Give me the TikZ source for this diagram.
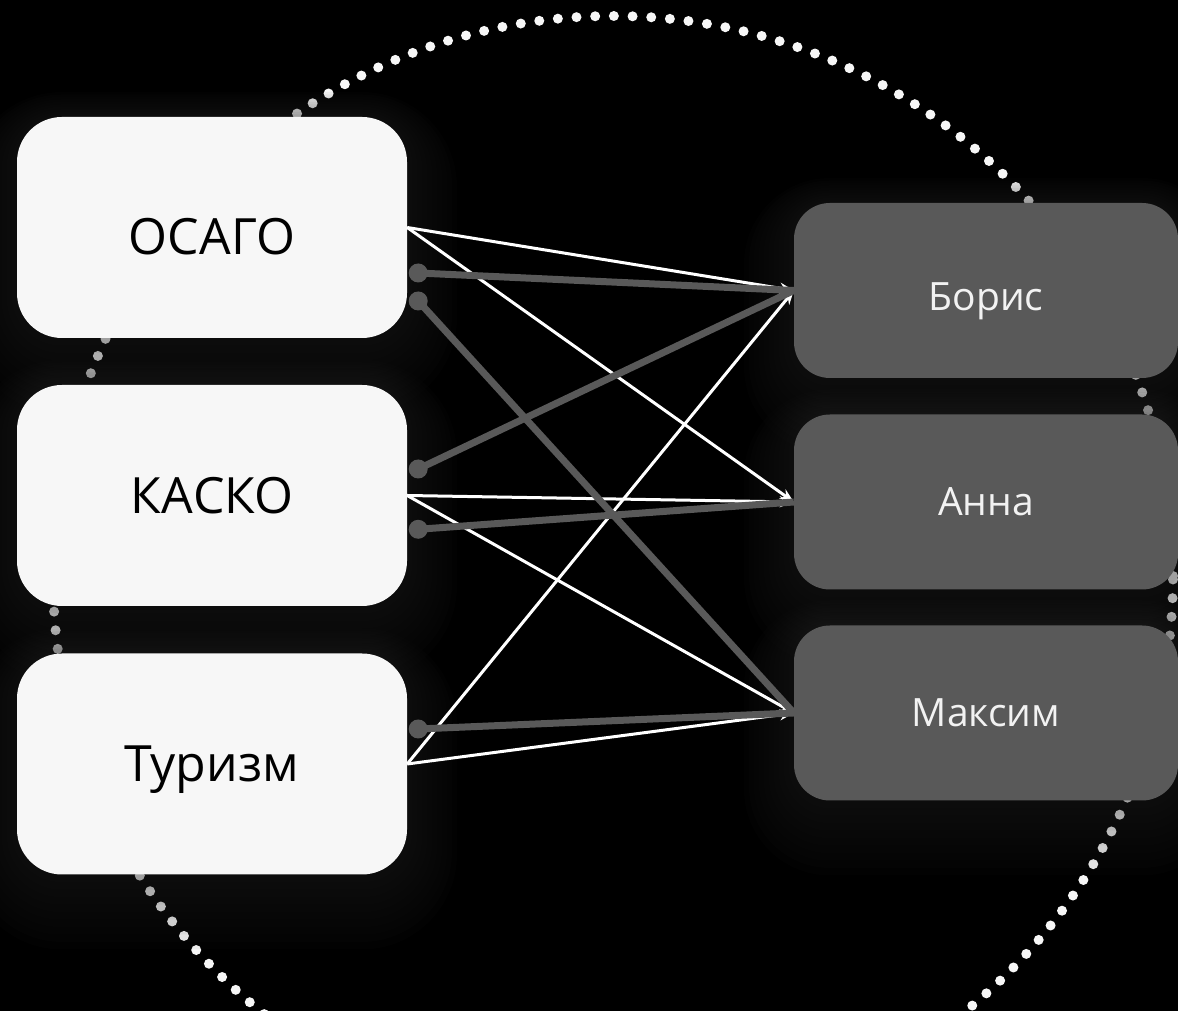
\documentclass[tikz,border=0pt]{standalone}
\usepackage{fontspec}
\setmainfont{Open Sans}
\usetikzlibrary{arrows.meta}
\definecolor{boxwhite}{HTML}{F7F7F7}
\definecolor{boxgray}{HTML}{595959}
\definecolor{textwhite}{HTML}{F2F2F2}
\definecolor{haze}{HTML}{2B2B2B}
\tikzset{
  leftbox/.style={rectangle,rounded corners=45pt,fill=boxwhite,
    minimum width=390pt,minimum height=221pt,text=black,
    text height=36pt,text depth=0pt,
    font=\fontsize{50}{60}\selectfont},
  rightbox/.style={rectangle,rounded corners=36pt,fill=boxgray,
    minimum width=384pt,minimum height=175pt,text=textwhite,
    text height=28pt,text depth=0pt,
    font=\fontsize{39}{47}\selectfont},
  link/.style={draw=white,line width=3pt,-{Stealth[length=14pt,width=11pt]}},
  graylink/.style={draw=boxgray,line width=7pt},
  graydot/.style={circle,fill=boxgray,inner sep=0pt,minimum size=19pt},
  dotring/.style={draw=boxwhite,line width=10pt,line cap=round,
    dash pattern=on 0pt off 18.7pt}
}

\begin{document}
\begin{tikzpicture}[x=1pt,y=1pt]
   \useasboundingbox (0,0) rectangle (1178,1011);
   \fill[black] (0,0) rectangle (1178,1011);
   % \draw[help lines,step=50] (0,0) grid (1178,1011);
   \coordinate (hub) at (613,435);
   \coordinate (c-osago) at (212,783.5);
   \coordinate (c-kasko) at (212,515.5);
   \coordinate (c-turizm) at (212,247);
   \coordinate (c-boris) at (986,720.5);
   \coordinate (c-anna) at (986,509);
   \coordinate (c-maxim) at (986,298);
   \draw[dotring] (hub) circle[radius=560];
   \foreach \c/\w/\h/\r in {c-osago/390/221/45,c-kasko/390/221/45,c-turizm/390/221/45,
                            c-boris/384/175/36,c-anna/384/175/36,c-maxim/384/175/36}{
     \foreach \e [evaluate=\e as \rr using \r+\e] in {5,10,...,50}{
       \fill[haze,fill opacity=0.05,rounded corners=\rr pt]
         ([shift={(-\w/2-\e,-\h/2-1.5*\e)}]\c) rectangle ([shift={(\w/2+\e,\h/2+0.5*\e)}]\c);
     }
   }
   \node[leftbox,text height=54pt] (osago) at (c-osago) {ОСАГО};
   \node[leftbox] (kasko) at (c-kasko) {КАСКО};
   \node[leftbox] (turizm) at (c-turizm) {Туризм};
   \node[rightbox,text height=41pt] (boris) at (c-boris) {Борис};
   \node[rightbox] (anna) at (c-anna) {Анна};
   \node[rightbox] (maxim) at (c-maxim) {Максим};
   \draw[link] (osago.east) -- (boris.west);
   \draw[link] (osago.east) -- (anna.west);
   \draw[link] (kasko.east) -- (anna.west);
   \draw[link] (kasko.east) -- (maxim.west);
   \draw[link] (turizm.east) -- (boris.west);
   \draw[link] (turizm.east) -- (maxim.west);
   \node[graydot] (osago-a) at ([shift={(11,-45.5)}]osago.east) {};
   \node[graydot] (osago-b) at ([shift={(11,-73.5)}]osago.east) {};
   \node[graydot] (kasko-a) at ([shift={(11,26.5)}]kasko.east) {};
   \node[graydot] (kasko-b) at ([shift={(11,-33.8)}]kasko.east) {};
   \node[graydot] (turizm-a) at ([shift={(11,35)}]turizm.east) {};
   \draw[graylink] (osago-a.center) -- (boris.west);
   \draw[graylink] (osago-b.center) -- (maxim.west);
   \draw[graylink] (kasko-a.center) -- (boris.west);
   \draw[graylink] (kasko-b.center) -- (anna.west);
   \draw[graylink] (turizm-a.center) -- (maxim.west);
\end{tikzpicture}
\end{document}
